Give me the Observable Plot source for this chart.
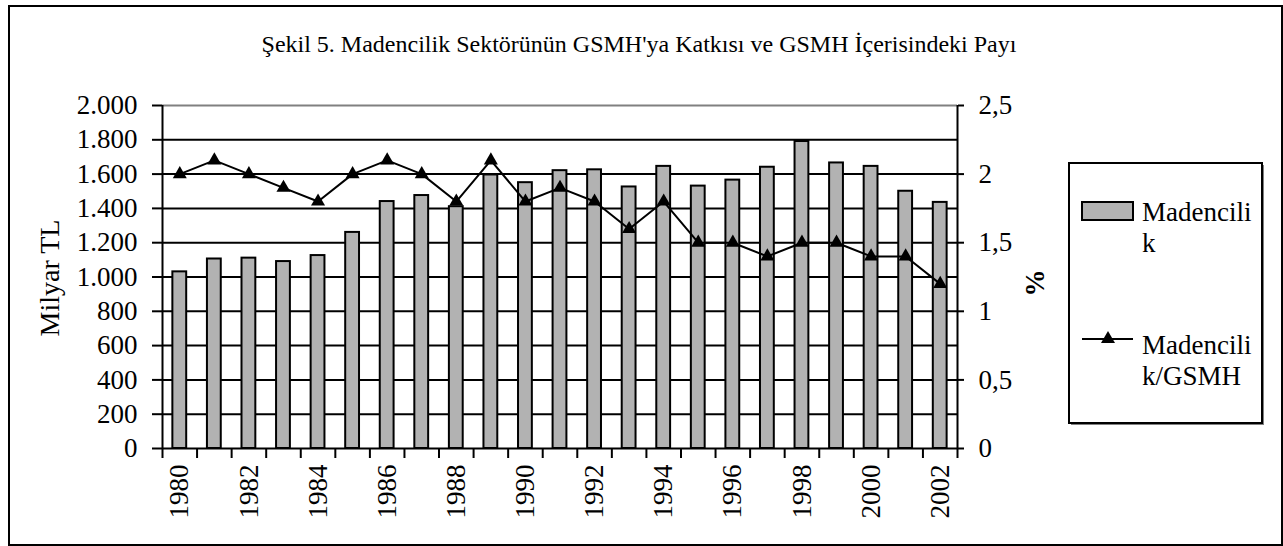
<!DOCTYPE html>
<html>
<head>
<meta charset="utf-8">
<script src="https://cdn.jsdelivr.net/npm/d3@7"></script>
<script src="https://cdn.jsdelivr.net/npm/@observablehq/plot@0.6"></script>
<style>
  html, body { margin: 0; padding: 0; background: #fff; }
  #wrap { position: relative; width: 1283px; height: 546px; overflow: hidden; }
  #wrap svg { position: absolute; left: 0; top: 0; }
</style>
</head>
<body>
<div id="wrap"></div>
<script>
// ---- data ----
const years = [1980, 1981, 1982, 1983, 1984, 1985, 1986, 1987, 1988, 1989, 1990, 1991,
               1992, 1993, 1994, 1995, 1996, 1997, 1998, 1999, 2000, 2001, 2002];
// Madencilik (Milyar TL)
const mining = [1030, 1105, 1110, 1090, 1125, 1260, 1440, 1475, 1410, 1595, 1550, 1620,
                1625, 1525, 1645, 1530, 1565, 1640, 1790, 1665, 1645, 1500, 1435];
// Madencilik/GSMH (%)
const share = [2.0, 2.1, 2.0, 1.9, 1.8, 2.0, 2.1, 2.0, 1.8, 2.1, 1.8, 1.9,
               1.8, 1.6, 1.8, 1.5, 1.5, 1.4, 1.5, 1.5, 1.4, 1.4, 1.2];
const yearTickLabels = [1980, 1982, 1984, 1986, 1988, 1990, 1992, 1994, 1996, 1998, 2000, 2002];
const leftTicks = [0, 200, 400, 600, 800, 1000, 1200, 1400, 1600, 1800, 2000];
const leftTickLabels = ["0", "200", "400", "600", "800", "1.000", "1.200", "1.400", "1.600", "1.800", "2.000"];
const rightTicks = [0, 0.5, 1, 1.5, 2, 2.5];
const rightTickLabels = ["0", "0,5", "1", "1,5", "2", "2,5"];
const titleText = "Şekil 5. Madencilik Sektörünün GSMH'ya Katkısı ve GSMH İçerisindeki Payı";
const leftAxisTitle = "Milyar TL";
const rightAxisTitle = "%";
const legendBarLines = ["Madencili", "k"];
const legendLineLines = ["Madencili", "k/GSMH"];

// ---- build ----
const FONT = '"Liberation Serif", "Times New Roman", serif';
const data = years.map((year, i) => ({year, mining: mining[i], share: share[i]}));
const rightMax = rightTicks[rightTicks.length - 1];
const leftMax = leftTicks[leftTicks.length - 1];
const k = leftMax / rightMax; // map % onto the left scale
const halfBar = 0.2;
const bounds = years.map(y => y - 0.5).concat([years[years.length - 1] + 0.5]);
const xMin = bounds[0], xMax = bounds[bounds.length - 1];
const TRI_R = 5.2;

const chart = Plot.plot({
  width: 1283,
  height: 546,
  marginLeft: 162,
  marginRight: 326,
  marginTop: 105,
  marginBottom: 98,
  x: {domain: [xMin, xMax]},
  y: {domain: [0, leftMax]},
  style: {fontFamily: FONT, fontSize: "27px", color: "#000", background: "transparent", overflow: "visible"},
  marks: [
    Plot.ruleY(leftTicks.filter(v => v > 0 && v < leftMax), {stroke: "#000", strokeWidth: 2}),
    Plot.ruleY([leftMax], {stroke: "#808080", strokeWidth: 2}),
    Plot.rectY(data, {x1: d => d.year - halfBar, x2: d => d.year + halfBar, y1: 0, y2: "mining",
                      fill: "#b2b2b2", stroke: "#000", strokeWidth: 2}),
    Plot.ruleY([0], {stroke: "#000", strokeWidth: 2}),
    Plot.ruleX([xMin, xMax], {y1: 0, y2: leftMax, stroke: "#000", strokeWidth: 2}),
    Plot.line(data, {x: "year", y: d => d.share * k, stroke: "#000", strokeWidth: 2}),
    Plot.dot(data, {x: "year", y: d => d.share * k, symbol: "triangle", r: TRI_R, fill: "#000", stroke: "none"}),
    // left axis
    Plot.axisY({anchor: "left", ticks: leftTicks, tickSize: 10, tickPadding: 15,
                tickFormat: (d) => leftTickLabels[leftTicks.indexOf(d)], label: null, strokeWidth: 2}),
    // right axis (%)
    Plot.axisY({anchor: "right", ticks: rightTicks.map(v => v * k), tickSize: 6, tickPadding: 15,
                tickFormat: (d) => rightTickLabels[rightTicks.indexOf(d / k)], label: null, strokeWidth: 2}),
    // category boundary ticks
    Plot.axisX({ticks: bounds, tickSize: 10, tickFormat: () => "", label: null, strokeWidth: 2}),
    // year labels
    Plot.axisX({ticks: yearTickLabels, tickSize: 0, tickPadding: 16, tickRotate: -90,
                tickFormat: d => String(d), label: null})
  ]
});
document.getElementById("wrap").appendChild(chart);

// ---- overlay: frame, title, axis titles, legend ----
const ov = d3.select("#wrap").append("svg")
  .attr("width", 1283).attr("height", 546)
  .style("font-family", FONT)
  .style("pointer-events", "none");

ov.append("rect").attr("x", 9).attr("y", 6).attr("width", 1273).attr("height", 539)
  .attr("fill", "none").attr("stroke", "#000").attr("stroke-width", 2);

ov.append("text").attr("x", 639).attr("y", 52).attr("text-anchor", "middle")
  .attr("font-size", 24).attr("fill", "#000").text(titleText);

ov.append("text").attr("transform", "translate(49,278) rotate(-90)")
  .attr("text-anchor", "middle").attr("dominant-baseline", "central")
  .attr("font-size", 28).attr("fill", "#000").text(leftAxisTitle);

ov.append("text").attr("transform", "translate(1035,283) rotate(-90)")
  .attr("text-anchor", "middle").attr("dominant-baseline", "central")
  .attr("font-size", 27).attr("font-weight", "bold").attr("fill", "#000").text(rightAxisTitle);

// legend
const lg = ov.append("g");
lg.append("rect").attr("x", 1071).attr("y", 165).attr("width", 193).attr("height", 260)
  .attr("fill", "#808080");
lg.append("rect").attr("x", 1069).attr("y", 163).attr("width", 193).attr("height", 260)
  .attr("fill", "#fff").attr("stroke", "#000").attr("stroke-width", 2);
lg.append("rect").attr("x", 1082).attr("y", 202).attr("width", 51).attr("height", 18)
  .attr("fill", "#b2b2b2").attr("stroke", "#000").attr("stroke-width", 2);
legendBarLines.forEach((t, i) => {
  lg.append("text").attr("x", 1142).attr("y", 221 + i * 31).attr("font-size", 27).attr("fill", "#000").text(t);
});
lg.append("line").attr("x1", 1082).attr("x2", 1133).attr("y1", 339).attr("y2", 339)
  .attr("stroke", "#000").attr("stroke-width", 2);
lg.append("path").attr("transform", "translate(1108,339)")
  .attr("d", d3.symbol(d3.symbolTriangle, TRI_R * TRI_R * Math.PI)())
  .attr("fill", "#000");
legendLineLines.forEach((t, i) => {
  lg.append("text").attr("x", 1142).attr("y", 354 + i * 31).attr("font-size", 27).attr("fill", "#000").text(t);
});
</script>
</body>
</html>
